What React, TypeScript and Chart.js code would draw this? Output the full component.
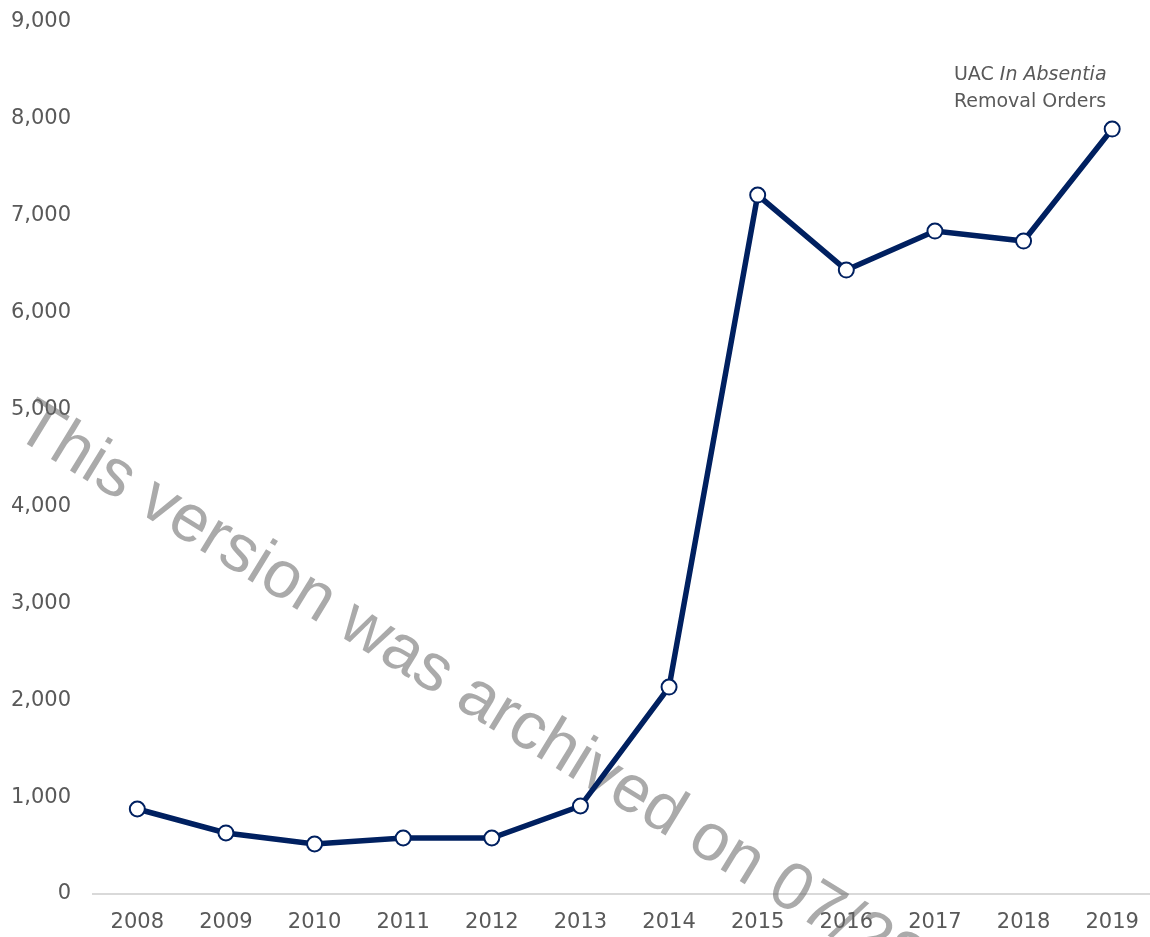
import React, { useEffect, useRef } from "react";
import { Chart, registerables } from "chart.js";

Chart.register(...registerables);

const years = ["2008", "2009", "2010", "2011", "2012", "2013", "2014", "2015", "2016", "2017", "2018", "2019"];
const removalOrders = [877, 630, 516, 578, 578, 908, 2136, 7214, 6440, 6842, 6739, 7895];
const yTicks = [0, 1000, 2000, 3000, 4000, 5000, 6000, 7000, 8000, 9000];
const seriesLabelPlain = "UAC ";
const seriesLabelItalic = "In Absentia";
const seriesLabelLine2 = "Removal Orders";
const watermarkText = "This version was archived on 07/22/2021";

const NAVY = "#002060";
const GREY = "#595959";
const FONT = "'Liberation Sans', Arial, sans-serif";
const TICK_FONT = "'DejaVu Sans', sans-serif";

const watermarkPlugin = {
  id: "watermark",
  beforeDatasetsDraw(chart: any) {
    const ctx = chart.ctx;
    ctx.save();
    ctx.translate(12, 435);
    ctx.rotate((31.5 * Math.PI) / 180);
    ctx.font = `67px ${FONT}`;
    ctx.fillStyle = "rgba(100,100,100,0.55)";
    ctx.textBaseline = "alphabetic";
    ctx.textAlign = "left";
    ctx.fillText(watermarkText, 0, 0);
    ctx.restore();
  },
};

const labelPlugin = {
  id: "seriesLabel",
  afterDatasetsDraw(chart: any) {
    const meta = chart.getDatasetMeta(0);
    const last = meta.data[meta.data.length - 1];
    if (!last) return;
    const ctx = chart.ctx;
    ctx.save();
    ctx.fillStyle = GREY;
    ctx.textBaseline = "middle";
    const right = last.x - 6;
    const y1 = last.y - 54;
    const y2 = last.y - 27;
    const normalFont = `19px ${TICK_FONT}`;
    const italicFont = `oblique 19px ${TICK_FONT}`;
    ctx.font = normalFont;
    const wPlain = ctx.measureText(seriesLabelPlain).width;
    const w2 = ctx.measureText(seriesLabelLine2).width;
    const start = right - w2;
    ctx.textAlign = "left";
    ctx.fillText(seriesLabelPlain, start, y1);
    ctx.font = italicFont;
    ctx.fillText(seriesLabelItalic, start + wPlain, y1);
    ctx.font = normalFont;
    ctx.fillText(seriesLabelLine2, start, y2);
    ctx.restore();
  },
};

export default function App() {
  const ref = useRef<HTMLCanvasElement>(null);
  useEffect(() => {
    if (!ref.current) return;
    const chart = new Chart(ref.current, {
      type: "line",
      data: {
        labels: years,
        datasets: [
          {
            label: "UAC In Absentia Removal Orders",
            data: removalOrders,
            borderColor: NAVY,
            borderWidth: 5.5,
            pointRadius: 7.5,
            pointBorderWidth: 2,
            pointBackgroundColor: "#ffffff",
            pointBorderColor: NAVY,
            tension: 0,
          },
        ],
      },
      plugins: [watermarkPlugin, labelPlugin],
      options: {
        animation: false,
        responsive: false,
        layout: { padding: { top: 22, right: 0, bottom: 0, left: 0 } },
        plugins: { legend: { display: false }, tooltip: { enabled: false } },
        scales: {
          x: {
            offset: true,
            grid: { display: false, drawTicks: false },
            border: { display: true, color: "#d9d9d9", width: 2 },
            ticks: {
              color: GREY,
              font: { family: TICK_FONT, size: 21 },
              padding: 16,
              maxRotation: 0,
            },
            afterFit(scale: any) {
              scale.height = 43;
              scale.paddingLeft = 0;
              scale.paddingRight = 0;
            },
          },
          y: {
            min: 0,
            max: 9000,
            afterBuildTicks(scale: any) {
              scale.ticks = yTicks.map((v) => ({ value: v }));
            },
            grid: { display: false, drawTicks: false },
            border: { display: false },
            ticks: {
              color: GREY,
              font: { family: TICK_FONT, size: 21 },
              padding: 22,
              callback: (v: any) => Number(v).toLocaleString("en-US"),
            },
            afterFit(scale: any) {
              scale.width = 93;
              scale.paddingTop = 0;
              scale.paddingBottom = 0;
            },
          },
        },
      },
    });
    return () => chart.destroy();
  }, []);
  return (
    <div style={{ position: "fixed", left: 0, top: 0, width: 1150, height: 937, overflow: "hidden", background: "#fff" }}>
      <canvas ref={ref} width={1166} height={937} style={{ display: "block" }} />
    </div>
  );
}
